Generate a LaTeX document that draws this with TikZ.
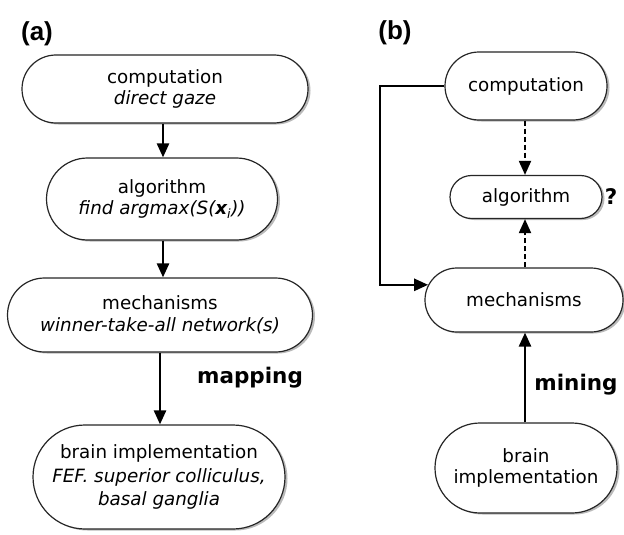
\documentclass[tikz,border=0pt]{standalone}
\usepackage{fontspec}
\setmainfont{DejaVu Sans}
\newfontfamily\labfont{Liberation Sans}
\usetikzlibrary{shapes.misc,arrows.meta,shadows}
\begin{document}
\begin{tikzpicture}[x=1pt,y=-1pt,
  box/.style={rounded rectangle, draw=black!85, line width=1.2pt, fill=white, align=center,
    font=\fontsize{18.3}{21.5}\selectfont, inner sep=0pt,
    drop shadow={shadow xshift=2.5pt,shadow yshift=-1.5pt,fill=black!60,opacity=0.45}},
  arr/.style={line width=2.5pt, -{Triangle[width=12pt,length=14pt]}},
  darr/.style={line width=1.9pt, dash pattern=on 5pt off 3pt, -{Triangle[width=12pt,length=14pt]}},
  lab/.style={font=\labfont\bfseries\fontsize{26}{30}\selectfont},
  blab/.style={font=\bfseries\fontsize{21.5}{24}\selectfont}]
\useasboundingbox (0,0) rectangle (624,535);
% panel (a)
\node[lab] (la) at (37,34) {(a)};
\node[box, minimum width=286pt, minimum height=68pt] (ca) at (165,89) {computation\\\textit{direct gaze}};
\node[box, minimum width=231pt, minimum height=82pt] (aa) at (162,199) {algorithm\\\textit{find argmax(S(\textbf{x}\textsubscript{i}))}};
\node[box, minimum width=305pt, minimum height=74pt] (ma) at (160,315) {mechanisms\\\textit{winner-take-all network(s)}};
\node[box, minimum width=252pt, minimum height=104pt, font=\fontsize{18.3}{23.5}\selectfont] (ba) at (159,477) {brain implementation\\\textit{FEF. superior colliculus,}\\\textit{basal ganglia}};
\draw[arr] (ca.south -| 163,0) -- (aa.north -| 163,0);
\draw[arr] (aa.south -| 163,0) -- (ma.north -| 163,0);
\draw[arr] (ma.south -| 160,0) -- (ba.north -| 160,0);
\node[blab] (mapping) at (250,378) {mapping};
% panel (b)
\node[lab] (lb) at (395,33) {(b)};
\node[box, minimum width=162pt, minimum height=68pt] (cb) at (526,86) {computation};
\node[box, minimum width=152pt, minimum height=43pt] (ab) at (526,197) {algorithm};
\node[box, minimum width=198pt, minimum height=64pt] (mb) at (524,300) {mechanisms};
\node[box, minimum width=182pt, minimum height=90pt] (bb) at (526,468) {brain\\implementation};
\node[blab] (q) at (611,197) {?};
\node[blab] (mining) at (576,385) {mining};
\coordinate (lx) at (380,86);
\draw[arr] (cb.west) -- (lx) |- (mb.171);
\draw[darr] (cb.south -| 525,0) -- (ab.north -| 525,0);
\draw[darr] (mb.north -| 525,0) -- (ab.south -| 525,0);
\draw[arr] (bb.north -| 525,0) -- (mb.south -| 525,0);
\end{tikzpicture}
\end{document}
